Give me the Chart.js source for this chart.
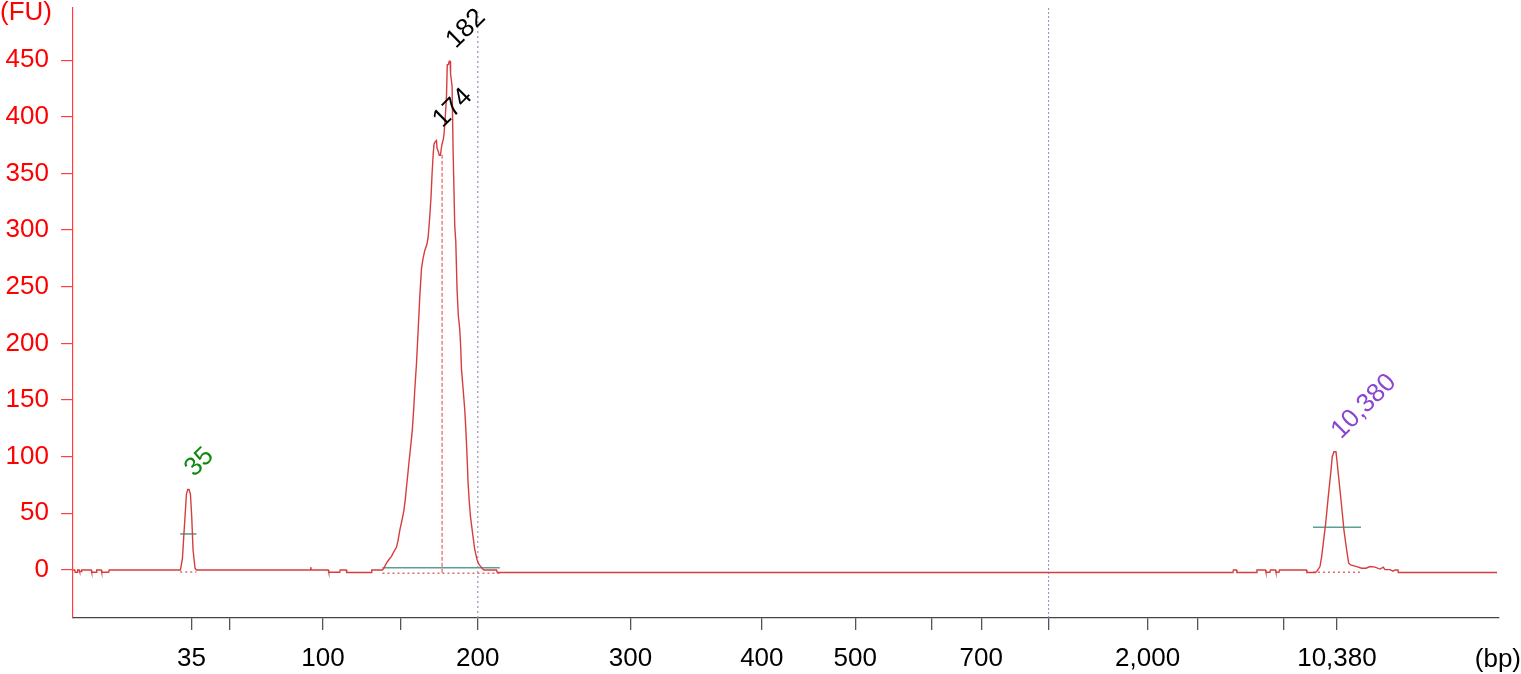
<!DOCTYPE html>
<html><head><meta charset="utf-8">
<script src="https://cdn.jsdelivr.net/npm/chart.js@4"></script>
<style>html,body{margin:0;padding:0;background:#fff;overflow:hidden}#wrap{width:1521px;height:674px;position:relative}</style>
</head><body><div id="wrap"><canvas id="c" width="1521" height="674"></canvas></div>
<script>
// Migration time (arbitrary units) and fluorescence (FU)
const traceTime = [73.3,75,75.5,77.5,78,79.5,80,81.5,82,91.5,92,96.5,97,101.5,102,109,109.5,180.7,182.7,184,185.3,186.7,188,189.3,190.7,192,193.3,195.3,196.7,310.5,311,311.5,328.5,329,340,340.5,346.5,347,371.5,372,382.7,384,386.7,389,391.7,394,396.7,398.5,400,402,404,405.5,406.7,408,409.3,411,412.5,414,415,416.7,418.3,420,421.7,423.3,425,427,428.3,430,431.3,432.3,433.5,434.3,435.5,436.7,437.3,438.3,439.5,440.7,441.5,442.3,443.5,444.3,445.5,446.7,447.5,448.5,449.5,450.3,450.8,452.3,453.3,455,456,457.3,458.5,460,461,461.7,463.5,465,466,466.7,467.5,468.3,469.5,470.7,472,473.3,475,476.5,477.3,478.5,480,482,484,496.7,497.5,1233,1233.5,1236.5,1237,1256.5,1257,1265.5,1266,1270,1270.5,1275.5,1276,1279,1279.5,1306.5,1307,1315.5,1317,1318.5,1320,1321.7,1323.3,1325.7,1328.3,1330.7,1332.3,1334,1336,1337.3,1339.3,1341.7,1344,1346.7,1348.7,1350.7,1356.7,1361.7,1366,1370,1375,1380,1383.3,1385,1390,1393,1395,1398,1398.3,1497];
const traceFU = [0,0,-2,-2,0,0,-1.5,-1.5,0,0,-2,-2,0,0,-2,-2,0,0,10,29,47,67,71,71,67,47,18,1.5,0,0,2.5,0,0,-2,-2,0,0,-2.3,-2.3,0,0,1.5,6,9,12,16,20,27,35,43,52,62,73,84,96,110,123,143,159,182,210,241,266,275,282,287,293,312,330,350,368,376,378,379,372,370,366,366,372,376,380,385,400,418,446,446,449,449,438,427,371,303,290,247,225,212,195,177,158,141,125,112,95,77,60,47,38,29,18,12,9,6,4,2,0,0,-2.3,-2.3,0,0,-2.3,-2.3,0,0,-2,-2,0,0,-2,-2,0,0,-2.3,-2.3,-1,1,3,11.8,23.5,41,64.7,85,100,104.4,104.4,94,76.5,56,35,17.6,6,4.4,3,1.5,1.5,3,2.5,0.8,2.4,0.3,0.3,-1,0,0,-2.3,-2.3];

// X axis ticks (position in migration time, size label in bp)
const xTickTime = [191.7,230,323.3,401.3,478,630.7,762,855.3,931.3,981.3,1048.7,1147.7,1198,1284,1337];
const xTickLabels = ['35','','100','','200','300','400','500','','700','','2,000','','','10,380'];
const yTickValues = [0,50,100,150,200,250,300,350,400,450];

// Peak annotations
const peakTime = [188.6, 436.7, 449.9, 1335];
const peakFU = [71, 379, 449, 104.4];
const peakLabels = ['35','174','182','10,380'];

// Peak regions (start, end, level of the region bar, baseline)
const regionStart = [180.5, 382.7, 1313];
const regionEnd = [196.7, 500, 1361];
const regionLevelFU = [31.8, 2, 37.7];
const regionBaseFU = [-1.8, -2.9, -2];

// Cursor lines
const sizeCursorTime = 442.3, sizeCursorTopFU = 368, sizeCursorBottomFU = -2.5;
const markerTimeA = 478, markerTopA = 493;
const markerTimeB = 1048.7, markerTopB = 496;

const yMin = -42.4, yMax = 496, xMin = 73.3, xMax = 1499;

const seg = (x1,y1,x2,y2) => [{x:x1,y:y1},{x:x2,y:y2}];
const datasets = [];
datasets.push({data: traceTime.map((t,i)=>({x:t,y:traceFU[i]})), borderColor:'rgb(214,62,62)', borderWidth:1.4, pointRadius:0, tension:0, order:0});
regionStart.forEach((s,i)=>{
  datasets.push({data: seg(s,regionLevelFU[i],regionEnd[i],regionLevelFU[i]), borderColor:'#5c9f95', borderWidth:1.6, pointRadius:0, order:2});
  datasets.push({data: seg(s,regionBaseFU[i],regionEnd[i],regionBaseFU[i]), borderColor:'#e06a6a', borderWidth:1.3, borderDash:[2,3], pointRadius:0, order:2});
});
datasets.push({data: seg(sizeCursorTime,sizeCursorBottomFU,sizeCursorTime,sizeCursorTopFU), borderColor:'#e04040', borderWidth:1, borderDash:[4,2], pointRadius:0, order:3});
datasets.push({data: seg(markerTimeA,yMin,markerTimeA,markerTopA), borderColor:'#9a9ac0', borderWidth:1.3, borderDash:[2,3], pointRadius:0, order:3});
datasets.push({data: seg(markerTimeB,yMin,markerTimeB,markerTopB), borderColor:'#a07cc0', borderWidth:1, borderDash:[2,2], pointRadius:0, order:3});

const FONT = '"Liberation Sans", Arial, Helvetica, sans-serif';
const FS = 26;
const peakColors = ['#0e8a0e','#000000','#000000','#8b45d0'];

const textPlugin = {
  id:'texts',
  afterDatasetsDraw(chart){
    const ctx = chart.ctx, xs = chart.scales.x, ys = chart.scales.y;
    ctx.save();
    ctx.font = FS + 'px ' + FONT;
    peakLabels.forEach((lab,i)=>{
      const px = xs.getPixelForValue(peakTime[i]) + 6;
      const py = ys.getPixelForValue(peakFU[i]) - 12;
      ctx.save();
      ctx.translate(px,py);
      ctx.rotate(-Math.PI/4);
      ctx.fillStyle = peakColors[i];
      ctx.textAlign='left'; ctx.textBaseline='alphabetic';
      ctx.fillText(lab,0,0);
      ctx.restore();
    });
    ctx.fillStyle = '#ff0000';
    ctx.textAlign='left'; ctx.textBaseline='alphabetic';
    ctx.fillText('(FU)', 0, 20);
    ctx.fillStyle = '#000';
    ctx.textAlign='right';
    ctx.fillText('(bp)', 1521, 667);
    ctx.restore();
  }
};

new Chart(document.getElementById('c'), {
  type:'line',
  data:{datasets},
  plugins:[textPlugin],
  options:{
    responsive:false, animation:false, devicePixelRatio:1,
    layout:{padding:{top:8,right:22,left:0,bottom:0}},
    plugins:{legend:{display:false},tooltip:{enabled:false}},
    scales:{
      x:{type:'linear', min:xMin, max:xMax,
        afterBuildTicks:(s)=>{s.ticks = xTickTime.map(v=>({value:v}));},
        afterFit:(s)=>{s.height = 56; s.paddingLeft = 0; s.paddingRight = 0;},
        grid:{display:true, drawOnChartArea:false, drawTicks:true, tickLength:12, tickColor:'#555', lineWidth:1.3},
        border:{display:true, color:'#444', width:1.3},
        ticks:{autoSkip:false, maxRotation:0, padding:13, color:'#000', font:{family:FONT, size:FS},
          callback:(v,i)=>xTickLabels[i]}
      },
      y:{type:'linear', min:yMin, max:yMax,
        afterBuildTicks:(s)=>{s.ticks = yTickValues.map(v=>({value:v}));},
        afterFit:(s)=>{s.width = 73; s.paddingTop = 0; s.paddingBottom = 0;},
        grid:{display:true, drawOnChartArea:false, drawTicks:true, tickLength:12, tickColor:'#ff4040', lineWidth:1.2},
        border:{display:true, color:'#ff4040', width:1.2},
        ticks:{padding:12, color:'#ff0000', font:{family:FONT, size:FS}, callback:(v)=>String(v)}
      }
    }
  }
});
</script></body></html>
